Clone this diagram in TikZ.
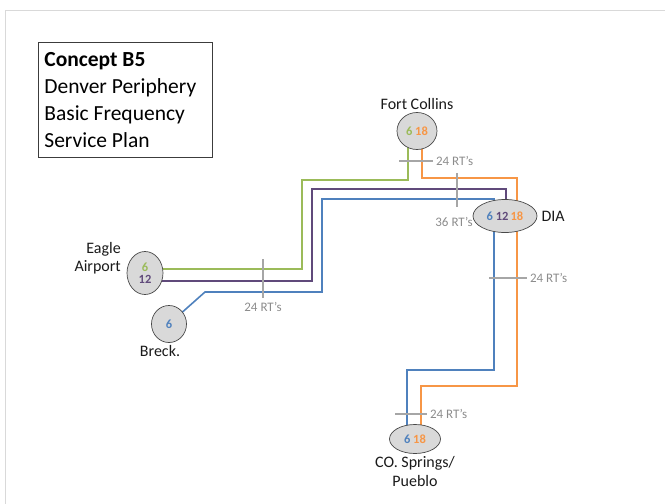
\documentclass[tikz,border=0pt]{standalone}
\usepackage{fontspec}
\setmainfont{Carlito}
\usepackage{xcolor}
\usepackage{tikz}
\usetikzlibrary{positioning,backgrounds,shapes.geometric}
\definecolor{ink}      {HTML}{1A1A1A}
\definecolor{frame}    {HTML}{D9D9D9}
\definecolor{stopfill} {HTML}{D9D9D9}
\definecolor{tickgray} {HTML}{A6A6A6}
\definecolor{tickink}  {HTML}{8C8C8C}
\definecolor{rgreen}   {HTML}{9BBB59}
\definecolor{rpurple}  {HTML}{604A7B}
\definecolor{rblue}    {HTML}{4F81BD}
\definecolor{rorange}  {HTML}{F79646}

\begin{document}
\begin{tikzpicture}[
  x=1pt, y=-1pt,
  stop/.style={ellipse, draw=ink!80, line width=0.7pt, fill=stopfill, inner sep=0pt,
               font=\fontsize{12.5}{14}\selectfont\bfseries, align=center},
  lbl/.style={font=\fontsize{16}{19}\selectfont, color=ink, inner sep=1pt},
  route/.style={line width=1.6pt},
  tick/.style={draw=tickgray, line width=2pt},
  tlbl/.style={font=\fontsize{13}{15}\selectfont, color=tickink, inner sep=2pt}
]
\useasboundingbox (0,0) rectangle (665,504);

% stations
\node[stop, minimum width=40, minimum height=37] (fc) at (417,131)
  {\textcolor{rgreen}{6}\ \textcolor{rorange}{18}};
\node[stop, minimum width=64, minimum height=33] (dia) at (505,216)
  {\textcolor{rblue}{6}\ \textcolor{rpurple}{12}\,\textcolor{rorange}{18}};
\node[stop, minimum width=36, minimum height=43] (eagle) at (145,273)
  {\textcolor{rgreen}{6}\\[-2pt]\textcolor{rpurple}{12}};
\node[stop, minimum width=35, minimum height=37] (breck) at (169,324)
  {\textcolor{rblue}{6}};
\node[stop, minimum width=51, minimum height=29] (co) at (415,439)
  {\textcolor{rblue}{6}\ \textcolor{rorange}{18}};

% station names
\node[lbl, above=1pt of fc] (fclbl) {Fort Collins};
\node[lbl, right=3pt of dia] (dialbl) {DIA};
\node[lbl, align=right, anchor=east] (eaglelbl) at (122,258) {Eagle\\[-1pt]Airport};
\node[lbl, below=1pt of breck, xshift=-9pt] (brecklbl) {Breck.};
\node[lbl, below=1pt of co, align=center] (colbl) {CO. Springs/\\[0pt]Pueblo};

% title
\node[draw=ink!85, line width=0.8pt, anchor=north west, minimum width=174, minimum height=115,
      text width=162, align=flush left, inner xsep=6pt, font=\fontsize{21.5}{27}\selectfont] (title) at (38,42)
  {\textbf{Concept B5}\\Denver Periphery\\Basic Frequency\\Service Plan};

% frequency ticks
\draw[tick] (399,161) -- (433,161) node[tlbl, right] (tkfc) {24 RT’s};
\draw[tick] (457,173) -- (457,207) node[tlbl, below=7pt, xshift=-3pt] (tkdia) {36 RT’s};
\draw[tick] (263,259) -- (263,298) node[tlbl, below=1pt] (tkwest) {24 RT’s};
\draw[tick] (489,278) -- (527,278) node[tlbl, right] (tkeast) {24 RT’s};
\draw[tick] (395,414) -- (427,414) node[tlbl, right] (tkco) {24 RT’s};

\begin{scope}[on background layer]
\draw[frame, line width=0.8pt] (5,504) -- (5,10) -- (665,10);
\draw[route, rgreen] ([yshift=4pt]eagle.center) -| (302,180) -| ([xshift=-9pt]fc.center);
\draw[route, rpurple] ([yshift=-8pt]eagle.center) -| (312,189) -| ([xshift=1pt]dia.center);
\draw[route, rblue] (breck.center) -- (205,292) -| (322,199) -| ([xshift=-11pt]dia.center);
\draw[route, rblue] ([xshift=-11pt]dia.center) |- (407,370) -- ([xshift=-8pt]co.center);
\draw[route, rorange] ([xshift=5pt]fc.center) |- (517,178) |- (421,386) -- ([xshift=6pt]co.center);
\end{scope}
\end{tikzpicture}
\end{document}
